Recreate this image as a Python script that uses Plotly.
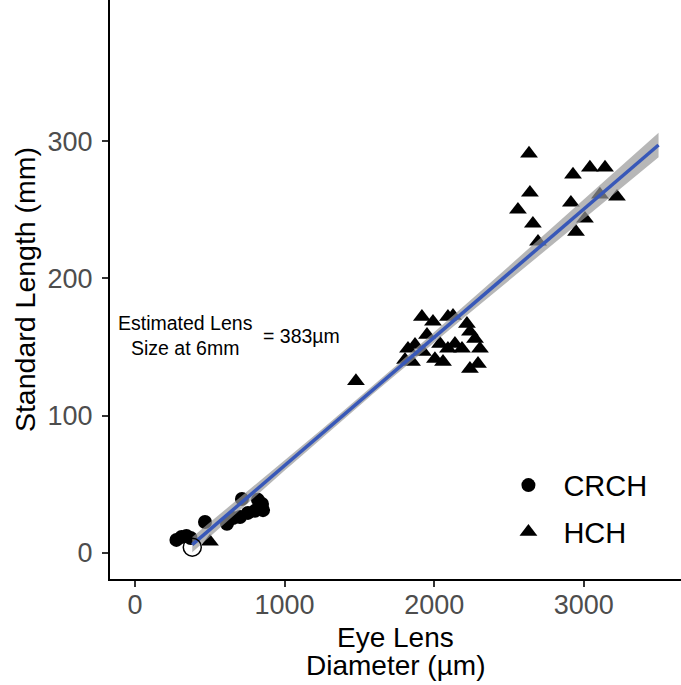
import numpy as np
import plotly.graph_objects as go

# ---------------- data ----------------
crch_x = [277, 311, 344, 372, 468, 615, 655, 702, 715, 755, 802, 822, 849, 856]
crch_y = [9.3, 11.5, 12.2, 10.7, 22.4, 21.0, 25.3, 26.0, 39.2, 29.0, 30.5, 38.5, 35.5, 31.0]

hch_x = [2634, 2928, 3041, 3142, 2640, 2560, 2660, 2914, 3108, 3222, 3008, 2948, 2694,
         1918, 1992, 2092, 2126, 2219, 2239, 2273, 2306, 1825, 1872, 1925, 1805, 1852,
         2005, 2059, 2092, 2139, 2186, 2239, 2293, 2039, 1952,
         1477, 501]
hch_y = [291.0, 275.7, 280.8, 280.8, 262.5, 250.1, 239.9, 255.2, 261.1, 259.6, 243.5, 234.0, 226.8,
         172.0, 168.4, 172.0, 172.7, 166.9, 161.1, 155.9, 148.7, 148.7, 151.6, 146.5, 140.6, 139.2,
         141.3, 139.2, 148.7, 152.3, 148.7, 134.1, 137.7, 152.3, 158.9,
         125.1, 8.0]

# fitted regression and its confidence band parameters
fit_intercept = -30.0
fit_slope = 0.0935
fit_x_range = [383, 3500]
ci_se0 = 3.0        # half-width at band centre (mm)
ci_centre = 1500    # x where band is narrowest (µm)
ci_growth = 0.0042  # growth of half-width with distance from centre

est_lens_x = [383]
est_lens_y = [4]

x_ticks = [0, 1000, 2000, 3000]
y_ticks = [0, 100, 200, 300]
x_title_lines = ["Eye Lens", "Diameter (µm)"]

# ---------------- derived curves ----------------
fx = np.linspace(fit_x_range[0], fit_x_range[1], 120)
fy = fit_intercept + fit_slope * fx
hw = np.sqrt(ci_se0 ** 2 + (ci_growth * (fx - ci_centre)) ** 2)

FONT = "Liberation Sans, Arial, sans-serif"

fig = go.Figure()
fig.add_trace(go.Scatter(
    x=crch_x, y=crch_y, mode="markers", name="CRCH", legendgroup="a",
    marker=dict(symbol="circle", size=14, color="black", line=dict(width=0)),
))
fig.add_trace(go.Scatter(
    x=hch_x, y=hch_y, mode="markers", name="HCH", legendgroup="b",
    marker=dict(symbol="triangle-up", size=15.5, color="black", line=dict(width=0)),
))
fig.add_trace(go.Scatter(
    x=np.concatenate([fx, fx[::-1]]), y=np.concatenate([fy + hw, (fy - hw)[::-1]]),
    mode="lines", fill="toself", fillcolor="rgba(153,153,153,0.7)",
    line=dict(width=0), showlegend=False, hoverinfo="skip",
))
fig.add_trace(go.Scatter(
    x=fx, y=fy, mode="lines", line=dict(color="#3858B8", width=3.5),
    showlegend=False,
))
fig.add_trace(go.Scatter(
    x=est_lens_x, y=est_lens_y, mode="markers", showlegend=False,
    marker=dict(symbol="circle-open", size=18, color="black", line=dict(width=1.5, color="black")),
))

fig.add_annotation(x=336, y=158, xref="x", yref="y", text="Estimated Lens<br>Size at 6mm",
                   showarrow=False, font=dict(family=FONT, size=19.5, color="black"), align="center")
fig.add_annotation(x=840, y=158, xref="x", yref="y", text="= 383µm", xanchor="left",
                   showarrow=False, font=dict(family=FONT, size=19.5, color="black"))

# x-axis title, two lines (placed below the axis)
for txt, ypix in zip(x_title_lines, [637, 665]):
    fig.add_annotation(x=0.5, xref="paper", y=(579 - ypix) / 579, yref="paper",
                       text=txt, showarrow=False, yanchor="middle",
                       font=dict(family=FONT, size=28, color="black"))

axis_common = dict(
    showline=True, linecolor="black", linewidth=2, mirror=False,
    ticks="outside", ticklen=6, tickwidth=1.5, tickcolor="#333333",
    tickfont=dict(family=FONT, size=27, color="#4d4d4d"),
    showgrid=False, zeroline=False, automargin=False,
)

fig.update_layout(
    width=681, height=685,
    margin=dict(l=110, r=0, t=0, b=106),
    paper_bgcolor="white", plot_bgcolor="white",
    font=dict(family=FONT, color="black"),
    xaxis=dict(range=[-167, 3650], tickvals=x_ticks, ticklabelstandoff=-5, **axis_common),
    yaxis=dict(range=[-19.2, 403], tickvals=y_ticks, ticklabelstandoff=4,
               title=dict(text="Standard Length (mm)", font=dict(family=FONT, size=28.5, color="black"), standoff=4),
               **axis_common),
    legend=dict(x=0.6715, y=0.206, xanchor="left", yanchor="top",
                font=dict(family=FONT, size=29, color="black"),
                itemwidth=60, tracegroupgap=6, traceorder="grouped",
                bgcolor="rgba(0,0,0,0)"),
    showlegend=True,
)

fig.write_html("out.html", config={"displayModeBar": False},
               post_script="document.body.style.margin='0';")
